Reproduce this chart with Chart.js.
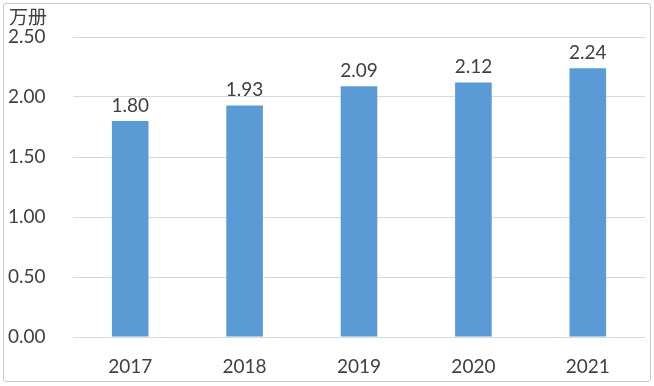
<!DOCTYPE html>
<html>
<head>
<meta charset="utf-8">
<script src="https://cdn.jsdelivr.net/npm/chart.js@4/dist/chart.umd.min.js"></script>
<style>
  html, body { margin: 0; padding: 0; background: #fff; }
  #wrap { position: relative; width: 654px; height: 386px; }
  #frame { position: absolute; left: 3px; top: 3px; width: 648px; height: 379px;
           border: 1px solid #c8c8c8; border-radius: 3px; box-sizing: border-box; pointer-events: none; }
</style>
</head>
<body>
<div id="wrap">
  <canvas id="chart" width="654" height="386"></canvas>
  <div id="frame"></div>
</div>
<script>
// 数据
const years = ['2017', '2018', '2019', '2020', '2021'];
const values = [1.80, 1.93, 2.09, 2.12, 2.24];
const yTicks = [0, 0.5, 1.0, 1.5, 2.0, 2.5];
const unitLabel = '万册';

const fontFamily = 'Lato, "Noto Sans CJK SC", sans-serif';
const textColor = '#404040';

// 柱顶数值 + 单位
const labelPlugin = {
    id: 'labels',
    afterDatasetsDraw(chart) {
        const ctx = chart.ctx;
        const meta = chart.getDatasetMeta(0);
        ctx.save();
        ctx.fillStyle = textColor;
        ctx.font = '19px ' + fontFamily;
        ctx.textAlign = 'center';
        ctx.textBaseline = 'bottom';
        meta.data.forEach(function (bar, i) {
            ctx.fillText(values[i].toFixed(2), bar.x, bar.y - 6);
        });
        ctx.font = '19px "Noto Sans CJK SC", sans-serif';
        ctx.textAlign = 'left';
        ctx.textBaseline = 'middle';
        ctx.fillText(unitLabel, 9, 17);
        ctx.restore();
    }
};

new Chart(document.getElementById('chart'), {
    type: 'bar',
    data: {
        labels: years,
        datasets: [{
            data: values,
            backgroundColor: '#5b9bd5',
            borderWidth: 0,
            barPercentage: 0.32,
            categoryPercentage: 1
        }]
    },
    options: {
        responsive: false,
        animation: false,
        layout: { padding: { left: 8, top: 37, right: 9, bottom: 0 } },
        plugins: { legend: { display: false }, tooltip: { enabled: false } },
        scales: {
            x: {
                grid: { display: false },
                border: { display: false },
                ticks: { color: textColor, font: { family: fontFamily, size: 19 }, padding: 10 },
                afterFit(scale) { scale.height = 49; }
            },
            y: {
                min: 0,
                max: 2.5,
                afterBuildTicks(scale) { scale.ticks = yTicks.map(v => ({ value: v })); },
                grid: { color: '#d9d9d9', drawTicks: false },
                border: { display: false },
                ticks: {
                    color: textColor,
                    font: { family: fontFamily, size: 19 },
                    crossAlign: 'far',
                    padding: 0,
                    callback: v => Number(v).toFixed(2)
                },
                afterFit(scale) { scale.width = 65; }
            }
        }
    },
    plugins: [labelPlugin]
});
</script>
</body>
</html>
